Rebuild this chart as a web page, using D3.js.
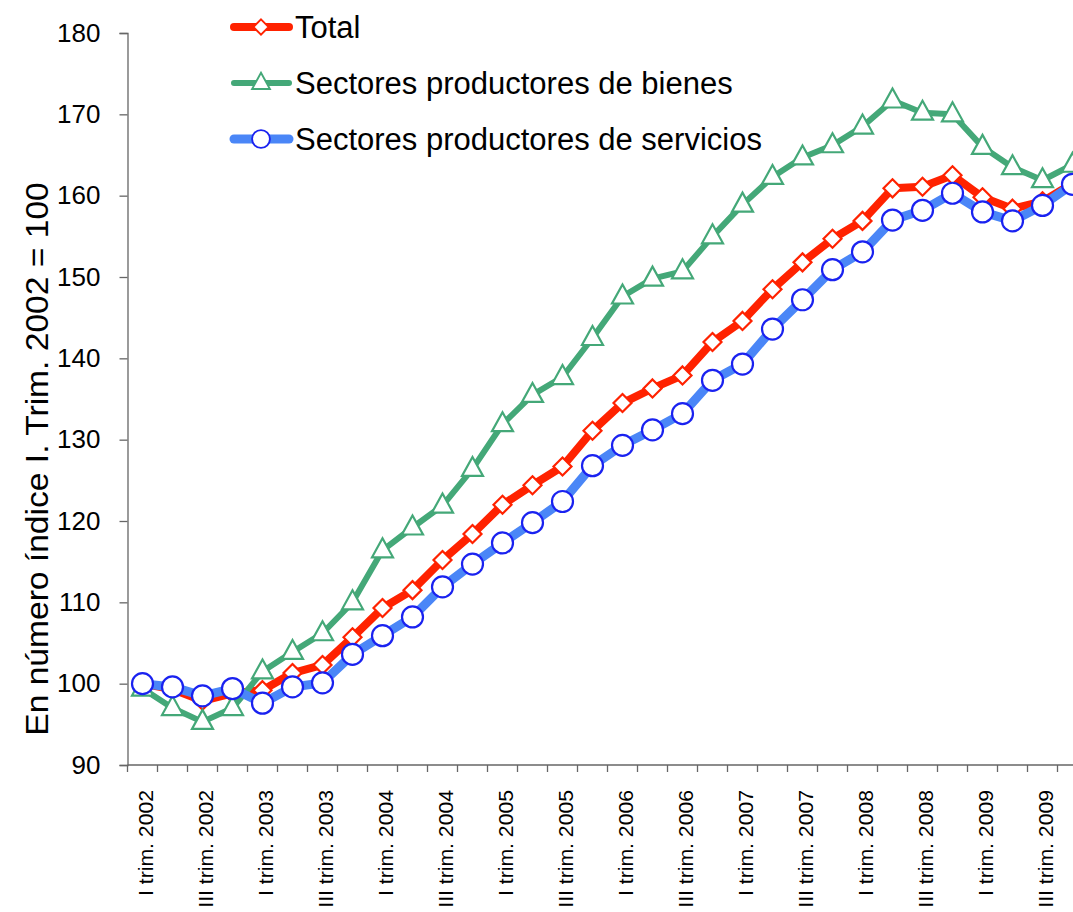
<!DOCTYPE html>
<meta charset="utf-8">
<style>
body{ margin:0; background:#fff; }
text{ font-family: "Liberation Sans", Arial, sans-serif; fill:#000; }
</style>
<body>
<div id="chart"></div>
<script src="https://cdnjs.cloudflare.com/ajax/libs/d3/7.8.5/d3.min.js"></script>
<script>
// trimestres I 2002 .. IV 2009
var roman = ["I","II","III","IV"];
var years = [2002,2003,2004,2005,2006,2007,2008,2009];
var quarters = [];
years.forEach(function(y){ roman.forEach(function(r){ quarters.push(r+" trim. "+y); }); });

var total = [100,99.3,97.9,98.8,99.2,101.3,102.3,105.7,109.3,111.5,115.2,118.4,
	122.0,124.4,126.7,131.1,134.5,136.3,137.9,142.0,144.6,148.5,151.8,154.7,
	156.9,160.9,161.1,162.5,159.8,158.4,159.3,161.5];
var bienes = [99.4,97.0,95.3,97.0,101.5,103.9,106.2,110.0,116.4,119.2,121.9,126.4,
	131.9,135.5,137.7,142.5,147.6,149.8,150.7,155.0,158.9,162.3,164.7,166.2,
	168.5,171.7,170.2,170.0,166.0,163.5,161.9,163.8];
var servicios = [100,99.6,98.5,99.4,97.6,99.6,100.1,103.6,105.9,108.2,111.9,114.7,
	117.3,119.8,122.4,126.8,129.3,131.2,133.2,137.3,139.3,143.6,147.2,150.9,
	153.1,157.0,158.2,160.3,158.0,156.9,158.8,161.4];

var yTicks = [90,100,110,120,130,140,150,160,170,180];
var legendNames = ["Total","Sectores productores de bienes","Sectores productores de servicios"];

var width = 1073, height = 912;
var mLeft = 127.5, mTop = 33, mBottom = 765, band = 30;

var svg = d3.select("#chart").append("svg").attr("width",width).attr("height",height);

var x = d3.scaleBand().domain(quarters).range([mLeft, mLeft + band*quarters.length]);
var y = d3.scaleLinear().domain([90,180]).range([mBottom, mTop]);

// eje Y
var yAxis = d3.axisLeft(y).tickValues(yTicks).tickSize(8).tickPadding(19);
var gy = svg.append("g").attr("transform","translate("+mLeft+",0)").call(yAxis);
gy.select(".domain").attr("stroke","#666").attr("stroke-width",1.3);
gy.selectAll(".tick line").attr("stroke","#666").attr("stroke-width",1.3);
gy.selectAll(".tick text").style("font-size","26px").attr("fill","#000")
	.style("font-family","'Liberation Sans', Arial, sans-serif");

// el gráfico original está algo estirado en vertical
svg.append("text")
	.attr("transform","translate(48,459) rotate(-90) scale(1.05,1)")
	.attr("text-anchor","middle")
	.style("font-size","32px")
	.text("En número índice I. Trim. 2002 = 100");

// eje X
var bounds = d3.range(quarters.length+1).map(function(i){ return mLeft + band*i; });
svg.append("line").attr("x1",mLeft).attr("x2",mLeft+band*quarters.length)
	.attr("y1",mBottom).attr("y2",mBottom).attr("stroke","#666").attr("stroke-width",1.3);
svg.selectAll(".xtick").data(bounds).enter().append("line").attr("class","xtick")
	.attr("x1",function(d){return d;}).attr("x2",function(d){return d;})
	.attr("y1",mBottom).attr("y2",mBottom+7)
	.attr("stroke","#666").attr("stroke-width",1.3);

svg.selectAll(".xlab").data(quarters.filter(function(d,i){ return i%2==0; }))
	.enter().append("text").attr("class","xlab")
	.attr("transform",function(d){
		return "translate("+(x(d)+x.bandwidth()/2+10)+",790) rotate(-90) scale(1.06,1)";
	})
	.attr("text-anchor","end")
	.style("font-size","20px")
	.text(function(d){return d;});

// series
var series = [
	{name:legendNames[0], values:total, line:"#ff2200", mark:"#ff2200", w:8, shape:"diamond"},
	{name:legendNames[1], values:bienes, line:"#44a878", mark:"#44a878", w:6, shape:"triangle"},
	{name:legendNames[2], values:servicios, line:"#4a86f7", mark:"#1a22f0", w:9, shape:"circle"}
];

var line = d3.line()
	.x(function(d,i){ return x(quarters[i]) + x.bandwidth()/2; })
	.y(function(d){ return y(d); });

function marker(g, s){
	if(s.shape=="diamond"){
		g.append("path").attr("d","M0,-9L9,0L0,9L-9,0Z");
	}else if(s.shape=="triangle"){
		g.append("path").attr("d","M0,-12L10.5,7L-10.5,7Z");
	}else{
		g.append("circle").attr("r",10.5);
	}
	g.selectAll("path,circle").attr("fill","#fff").attr("stroke",s.mark).attr("stroke-width",2.2);
}

series.forEach(function(s){
	var g = svg.append("g");
	g.append("path").datum(s.values)
		.attr("d",line).attr("fill","none")
		.attr("stroke",s.line).attr("stroke-width",s.w)
		.attr("stroke-linejoin","round");
	g.selectAll(".m").data(s.values).enter().append("g").attr("class","m")
		.attr("transform",function(d,i){
			return "translate("+(x(quarters[i])+x.bandwidth()/2)+","+y(d)+")";
		})
		.each(function(){ marker(d3.select(this), s); });
});

// leyenda
var leg = svg.append("g").attr("transform","translate(231,0)");
series.forEach(function(s,i){
	var ly = 27 + i*56;
	var g = leg.append("g").attr("transform","translate(0,"+ly+")");
	g.append("line").attr("x1",3).attr("x2",58).attr("y1",0).attr("y2",0)
		.attr("stroke",s.line).attr("stroke-width",s.w).attr("stroke-linecap","round");
	var mg = g.append("g").attr("transform","translate(30,0) scale(0.85)");
	marker(mg, s);
	g.append("text").attr("x",64).attr("y",11).style("font-size","31px").text(s.name);
});
</script>
</body>
